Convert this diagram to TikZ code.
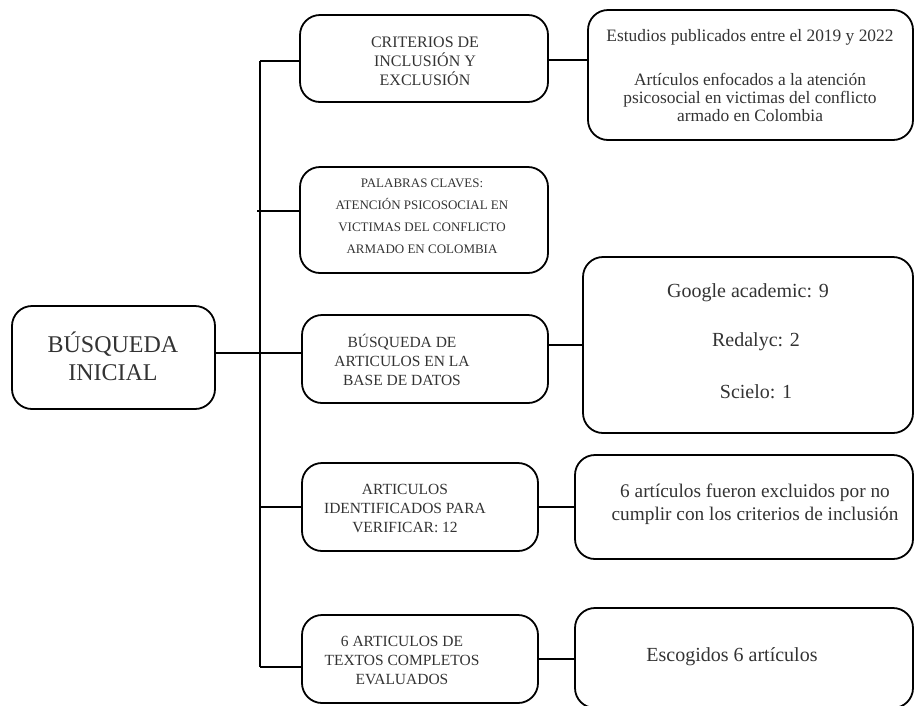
\documentclass[tikz,border=0pt]{standalone}
\usepackage{fontspec}
\setmainfont{Liberation Serif}
\definecolor{txt}{HTML}{333333}
\tikzset{
  box/.style={draw=black, line width=1.8pt, rounded corners=20pt, inner sep=0pt, outer sep=0pt},
  lbl/.style={text=txt, align=center, inner sep=0pt},
  conn/.style={draw=black, line width=1.8pt},
}
\begin{document}
\begin{tikzpicture}[x=1pt,y=-1pt]
\useasboundingbox (0,0) rectangle (915,705);
\clip (0,0) rectangle (915,705);
% boxes
\node[box, minimum width=203pt, minimum height=103pt] (main) at (113.5,357.5) {};
\node[box, minimum width=248pt, minimum height=87pt] (b1) at (424,58.5) {};
\node[box, minimum width=248pt, minimum height=106pt] (b2) at (424,220) {};
\node[box, minimum width=246pt, minimum height=88pt] (b3) at (425,359) {};
\node[box, minimum width=236pt, minimum height=88pt] (b4) at (420,507) {};
\node[box, minimum width=236pt, minimum height=88pt] (b5) at (420,659) {};
\node[box, minimum width=325pt, minimum height=130pt] (r1) at (750.5,75) {};
\node[box, minimum width=330pt, minimum height=176pt] (r2) at (748,345) {};
\node[box, minimum width=338pt, minimum height=104pt] (r3) at (744,507) {};
\node[box, minimum width=338pt, minimum height=100pt] (r4) at (744,658) {};
% labels
\node[lbl, font=\fontsize{24}{28}\selectfont] (tmain) at (113,356) {BÚSQUEDA\\INICIAL};
\node[lbl, font=\fontsize{16}{19}\selectfont] (tb1) at (425,61) {CRITERIOS DE\\INCLUSIÓN Y\\EXCLUSIÓN};
\node[lbl, font=\fontsize{13}{22}\selectfont] (tb2) at (422,216) {PALABRAS CLAVES:\\ATENCIÓN PSICOSOCIAL EN\\VICTIMAS DEL CONFLICTO\\ARMADO EN COLOMBIA};
\node[lbl, font=\fontsize{15.5}{19}\selectfont] (tb3) at (402,360) {BÚSQUEDA DE\\ARTICULOS EN LA\\BASE DE DATOS};
\node[lbl, font=\fontsize{15.5}{19}\selectfont] (tb4) at (405,508) {ARTICULOS\\IDENTIFICADOS PARA\\VERIFICAR: 12};
\node[lbl, font=\fontsize{15.5}{19}\selectfont] (tb5) at (402,660) {6 ARTICULOS DE\\TEXTOS COMPLETOS\\EVALUADOS};
\node[lbl, font=\fontsize{17.4}{18}\selectfont] (tr1a) at (750,37) {Estudios publicados entre el 2019 y 2022};
\node[lbl, font=\fontsize{17.4}{18}\selectfont] (tr1b) at (750,97) {Artículos enfocados a la atención\\psicosocial en victimas del conflicto\\armado en Colombia};
\node[lbl, font=\fontsize{20}{23}\selectfont] (tr2a) at (748,293) {Google academic: 9};
\node[lbl, font=\fontsize{20}{23}\selectfont] (tr2b) at (756,342) {Redalyc: 2};
\node[lbl, font=\fontsize{20}{23}\selectfont] (tr2c) at (756,392) {Scielo: 1};
\node[lbl, font=\fontsize{19.3}{23}\selectfont] (tr3) at (755,504) {6 artículos fueron excluidos por no\\cumplir con los criterios de inclusión};
\node[lbl, font=\fontsize{20}{23}\selectfont] (tr4) at (732,657) {Escogidos 6 artículos};
% trunk coordinates
\coordinate (j1) at (260,61);
\coordinate (j2) at (257,211);
\coordinate (j3) at (260,353);
\coordinate (j4) at (260,507);
\coordinate (j5) at (260,667);
\coordinate (k1) at (548,60);
% connectors
\draw[conn] (j1) -- (j5);
\draw[conn] (j1) -- (j1 -| b1.west);
\draw[conn] (j2) -- (j2 -| b2.west);
\draw[conn] (j3 -| main.east) -- (j3 -| b3.west);
\draw[conn] (j4) -- (j4 -| b4.west);
\draw[conn] (j5) -- (j5 -| b5.west);
\draw[conn] (k1 -| b1.east) -- (k1 -| r1.west);
\draw[conn] (b3.east |- r2.west) -- (r2.west);
\draw[conn] (b4.east) -- (b4.east -| r3.west);
\draw[conn] (b5.east) -- (b5.east -| r4.west);
\end{tikzpicture}
\end{document}
